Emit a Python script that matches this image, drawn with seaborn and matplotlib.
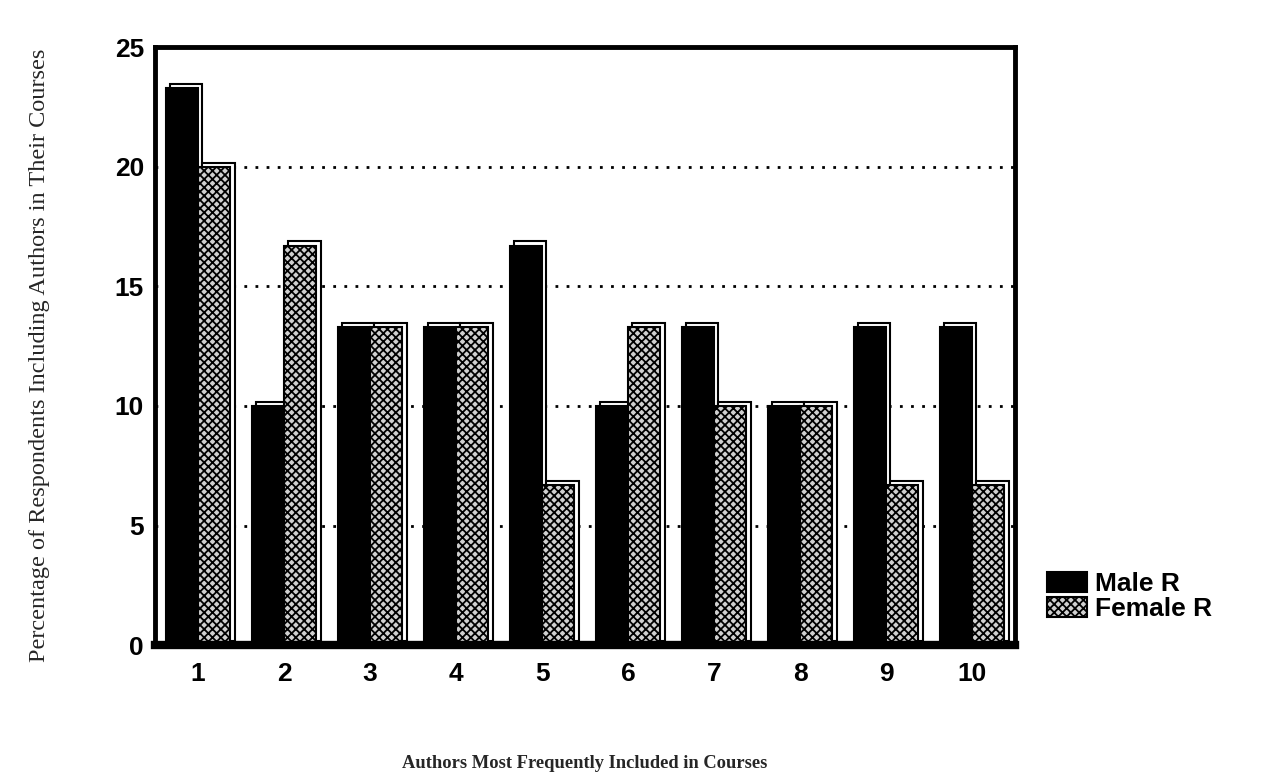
import numpy as np
import pandas as pd
import matplotlib.pyplot as plt
import matplotlib.patheffects as pe
import seaborn as sns

authors = ["1", "2", "3", "4", "5", "6", "7", "8", "9", "10"]
male = [23.3, 10.0, 13.3, 13.3, 16.7, 10.0, 13.3, 10.0, 13.3, 13.3]
female = [20.0, 16.7, 13.3, 13.3, 6.7, 13.3, 10.0, 10.0, 6.7, 6.7]
groups = ["Male R", "Female R"]

df = pd.DataFrame({
    "Author": authors * 2,
    "Group": [groups[0]] * len(authors) + [groups[1]] * len(authors),
    "Pct": male + female,
})

sns.set_style("white")
plt.rcParams["hatch.linewidth"] = 1.3
plt.rcParams["text.color"] = "black"
plt.rcParams["xtick.color"] = "black"
plt.rcParams["ytick.color"] = "black"

fig = plt.figure(figsize=(12.61, 7.84), dpi=100)
ax = fig.add_axes([0.123, 0.177, 0.682, 0.763])

sns.barplot(data=df, x="Author", y="Pct", hue="Group", order=authors,
            hue_order=groups, palette=["black", "#d0d0d0"], edgecolor="black",
            linewidth=1.5, width=0.75, saturation=1, ax=ax)

n = len(authors)
shadow = [pe.PathPatchEffect(offset=(3, 3), facecolor="white", edgecolor="black", linewidth=1.5),
          pe.Normal()]
for i, bar in enumerate(ax.patches[:2 * n]):
    if i >= n:
        bar.set_hatch("xxxx")
    bar.set_path_effects(shadow)

ax.set_ylim(0, 25)
ax.set_yticks([0, 5, 10, 15, 20, 25])
for y in [5, 10, 15, 20]:
    ax.axhline(y, color="black", linestyle=(0, (1, 3)), linewidth=2, zorder=0)

for s in ax.spines.values():
    s.set_linewidth(3.5)
    s.set_color("black")
ax.spines["bottom"].set_linewidth(6)

ax.tick_params(axis="x", length=0, pad=12)
ax.tick_params(axis="y", length=0, pad=8)
for lbl in ax.get_xticklabels() + ax.get_yticklabels():
    lbl.set_fontfamily("Liberation Sans")
    lbl.set_fontweight("bold")
    lbl.set_fontsize(19)

ax.set_xlabel("Authors Most Frequently Included in Courses",
              family="Liberation Serif", fontweight="bold", fontsize=13.3)
ax.xaxis.set_label_coords(0.5, -0.183)
ax.set_ylabel("Percentage of Respondents Including Authors in Their Courses",
              family="Liberation Serif", fontsize=17.5)
ax.yaxis.set_label_coords(-0.122, 0.485)

handles, labels = ax.get_legend_handles_labels()
handles[1].set_hatch("xxxx")
ax.legend(handles, labels, loc="lower left", bbox_to_anchor=(1.01, 0.0),
          frameon=False, handlelength=1.5, handleheight=0.8, handletextpad=0.3,
          labelspacing=0.05, prop={"family": "Liberation Sans", "weight": "bold", "size": 19})

fig.savefig("out.png", dpi=100)
